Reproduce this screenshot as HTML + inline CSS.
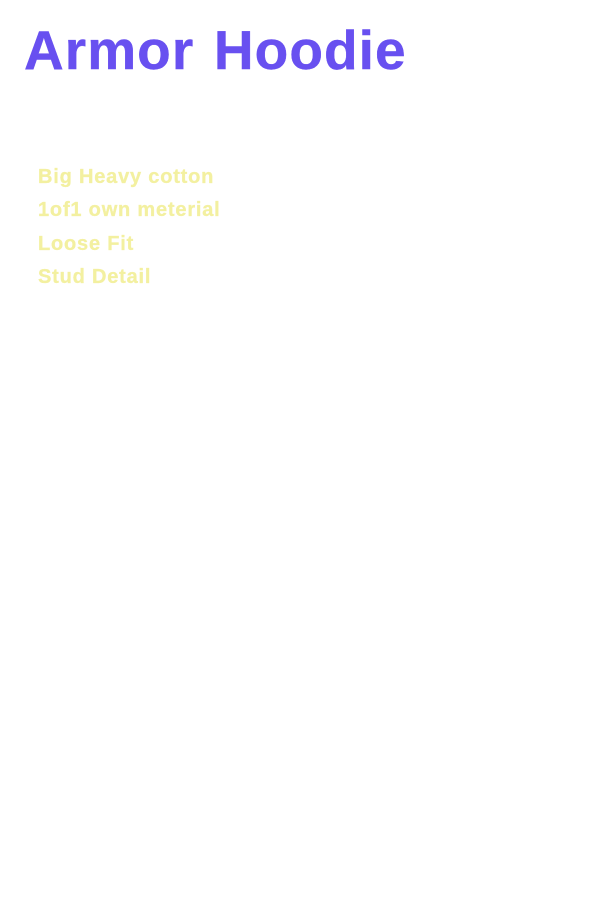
<!DOCTYPE html>
<html><head><meta charset="utf-8"><style>
html,body{margin:0;padding:0;background:#fff;width:600px;height:900px;overflow:hidden}
div{position:absolute;white-space:nowrap;font-family:"Liberation Sans",sans-serif;font-weight:700}
#t{left:24px;top:18px;font-size:55px;line-height:64px;letter-spacing:1.05px;word-spacing:3.3px;color:#6850f0;-webkit-text-stroke:0.4px #6850f0}
.l{left:38px;font-size:20px;line-height:24px;letter-spacing:.8px;color:#f3f0a0;-webkit-text-stroke:0.3px #f3f0a0}
</style></head><body>
<div id="t">Armor Hoodie</div>
<div class="l" style="top:165px">Big Heavy cotton</div>
<div class="l" style="top:198px">1of1 own meterial</div>
<div class="l" style="top:232px">Loose Fit</div>
<div class="l" style="top:265px">Stud Detail</div>
</body></html>
